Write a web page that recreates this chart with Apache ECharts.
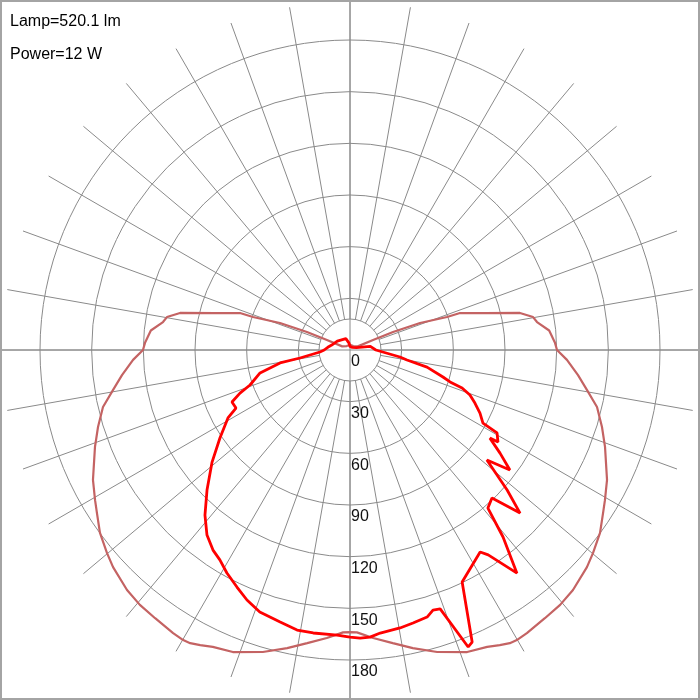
<!DOCTYPE html>
<html>
<head>
<meta charset="utf-8">
<script src="https://cdn.jsdelivr.net/npm/echarts@6/dist/echarts.min.js"></script>
<style>
html, body { margin: 0; padding: 0; background: #fff; }
#main { width: 700px; height: 700px; box-sizing: border-box; border: 2px solid #a4a4a4; }
</style>
</head>
<body>
<div id="main"></div>
<script>
var paleAngles = [0, 1.4, 4.6, 8.3, 11.9, 16.1, 21.2, 24.8, 26.9, 28.6, 29.9, 32, 36, 39.5, 42.9, 47.5, 50.1, 53.8, 57.2, 59.5, 63.2, 69.2, 73, 77, 80.4, 83.7, 87.4, 90, 92, 95.6, 98.5, 100.2, 102.3, 105.3, 108.6, 108.8, 111.1, 112.7, 113.5, 115, 140, 180];
var paleValues = [163.8, 164, 167.8, 172, 176.9, 182.5, 188.1, 189.9, 192.2, 193.9, 194.3, 193.8, 192.5, 191.8, 190.2, 186.6, 183.9, 179.9, 174.8, 171.8, 167.2, 158.4, 153, 147.2, 139.6, 133.2, 126.1, 120.2, 119.1, 116.2, 109.8, 108, 101, 81.3, 67.4, 59.5, 43.6, 27.1, 14.6, 5, 3, 3];

var redRightAngles = [0, 2, 4, 6.1, 10.2, 13, 16.1, 17.7, 19.2, 21.7, 22.7, 25.8, 32.8, 34, 36.8, 39.3, 41.1, 43.8, 46.2, 48.3, 51.2, 53.1, 55.5, 57.8, 58.1, 60.6, 61.2, 64.1, 67, 69.4, 71.3, 72.3, 73.8, 77.5, 80, 82, 90, 100, 110, 140, 180];
var redRightValues = [166.7, 167.4, 167.1, 165.3, 164, 162.7, 161.4, 158.5, 159.2, 185.6, 183.8, 149.6, 139.5, 143.5, 161.8, 140.3, 121.8, 119.1, 136.8, 122.2, 102, 116.1, 105.7, 96, 101.2, 98, 88.1, 83.9, 78.8, 74.4, 68.7, 61, 56.2, 45.8, 33.6, 29.3, 15, 12, 4, 2, 2];

var redLeftAngles = [0, 2.6, 7.4, 10.7, 14.4, 19, 22.4, 25.5, 28.9, 31.8, 34.4, 37.7, 41.3, 45.6, 50.9, 55.9, 60.9, 63, 66.2, 68.6, 70.7, 75.7, 79.5, 80.9, 86.2, 90, 97, 105, 125, 160, 172, 180];
var redLeftValues = [166.7, 165.7, 165.7, 165.5, 163.1, 160.9, 157, 152.5, 147.9, 143.4, 140.8, 135.8, 127.6, 116.2, 103.2, 91.2, 81.1, 74.3, 74.9, 68.6, 61.5, 53.9, 41.3, 29.4, 17.5, 15, 13, 11, 9, 7, 4, 2];

var radiusTicks = [0, 30, 60, 90, 120, 150, 180];
var infoLines = ['Lamp=520.1 lm', 'Power=12 W'];

var gridColor = '#8a8a8a';
var font = 'Liberation Sans, Arial, sans-serif';
var gridR = 310;            // pixel radius of the 180 circle
var dataMax = 210;          // data polar reaches further so peaks past 180 are kept

// right half goes 0..180, left half comes back 180..360
function polarLoop(rightAng, rightVal, leftAng, leftVal) {
    var pts = [];
    for (var i = 0; i < rightAng.length; i++) {
        pts.push([rightVal[i], rightAng[i]]);
    }
    for (var j = leftAng.length - 1; j >= 0; j--) {
        pts.push([leftVal[j], 360 - leftAng[j]]);
    }
    return pts;
}

function hiddenAngle(idx, extra) {
    var a = {
        polarIndex: idx, type: 'value', min: 0, max: 360, startAngle: -90, clockwise: false,
        axisLine: { show: false }, axisTick: { show: false }, axisLabel: { show: false },
        splitLine: { show: false }, minorSplitLine: { show: false }
    };
    for (var k in extra) a[k] = extra[k];
    return a;
}

function hiddenRadius(idx, max) {
    return { polarIndex: idx, type: 'value', min: 0, max: max || 1, show: false, splitLine: { show: false } };
}

var lastTick = radiusTicks[radiusTicks.length - 1];
var myChart = echarts.init(document.getElementById('main'));
myChart.setOption({
    animation: false,
    title: infoLines.map(function (t, i) {
        return {
            text: t, left: 8, top: 12 + i * 33, padding: 0,
            textStyle: { fontSize: 16, fontWeight: 'normal', color: '#000', fontFamily: font }
        };
    }),
    polar: [
        { center: ['50%', '50%'], radius: [0, gridR] },
        { center: ['50%', '50%'], radius: [31, 348] },
        { center: ['50%', '50%'], radius: [0, 31] },
        { center: ['50%', '50%'], radius: [0, 350] },
        { center: ['50%', '50%'], radius: [0, gridR * dataMax / lastTick] }
    ],
    angleAxis: [
        hiddenAngle(0, {}),
        hiddenAngle(1, { interval: 10, splitLine: { show: true, lineStyle: { color: gridColor, width: 1 } } }),
        hiddenAngle(2, { axisLine: { show: true, lineStyle: { color: gridColor, width: 1 } } }),
        hiddenAngle(3, { interval: 90, splitLine: { show: true, lineStyle: { color: gridColor, width: 1 } } }),
        hiddenAngle(4, {})
    ],
    radiusAxis: [
        {
            polarIndex: 0, type: 'value',
            min: radiusTicks[0], max: lastTick,
            interval: radiusTicks[1] - radiusTicks[0],
            axisLine: { show: false }, axisTick: { show: false },
            splitLine: { show: true, lineStyle: { color: gridColor, width: 1 } },
            axisLabel: {
                show: true, margin: 1, align: 'left', verticalAlign: 'top', padding: [4, 0, 0, 0],
                fontSize: 16, color: '#111', fontFamily: font
            }
        },
        hiddenRadius(1),
        hiddenRadius(2),
        hiddenRadius(3),
        hiddenRadius(4, dataMax)
    ],
    series: [
        {
            type: 'line', coordinateSystem: 'polar', polarIndex: 4,
            data: polarLoop(paleAngles, paleValues, paleAngles, paleValues),
            symbol: 'none', clip: false, z: 3,
            lineStyle: { color: '#c46363', width: 2.2 }
        },
        {
            type: 'line', coordinateSystem: 'polar', polarIndex: 4,
            data: polarLoop(redRightAngles, redRightValues, redLeftAngles, redLeftValues),
            symbol: 'none', clip: false, z: 4,
            lineStyle: { color: '#ff0000', width: 2.8 }
        }
    ]
});
</script>
</body>
</html>
